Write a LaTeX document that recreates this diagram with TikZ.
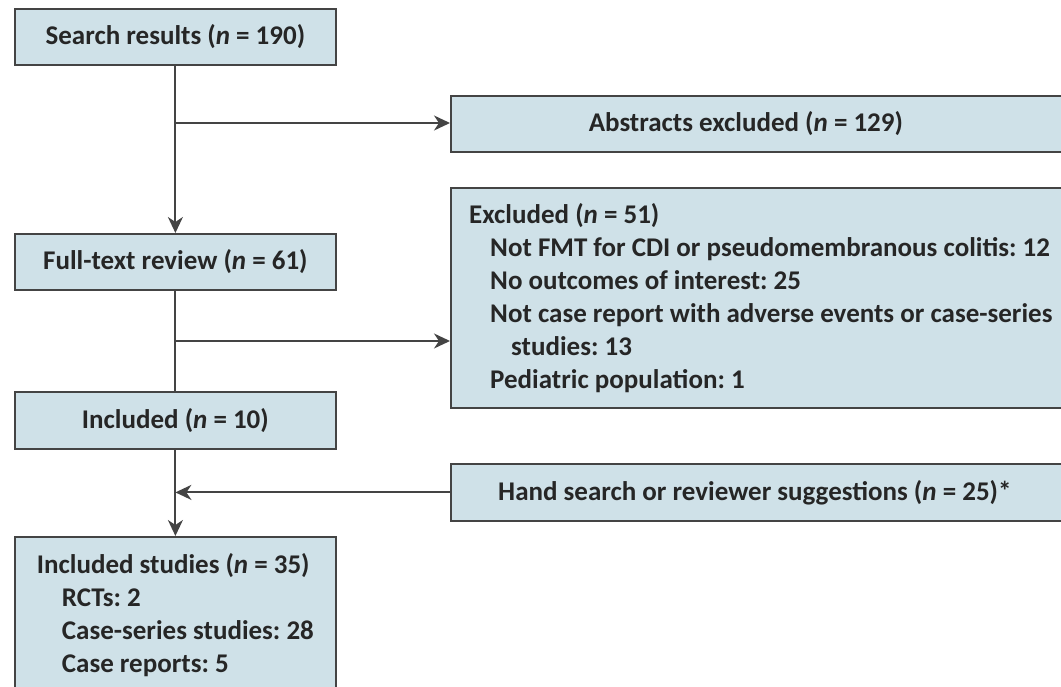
\documentclass[tikz,border=0pt]{standalone}
\usepackage{fontspec}
\setmainfont{Carlito}
\usetikzlibrary{arrows.meta,positioning}
\definecolor{boxfill}{RGB}{207,225,232}
\definecolor{boxline}{RGB}{68,68,68}
\definecolor{boxtext}{RGB}{38,38,38}
\frenchspacing

\begin{document}
\begin{tikzpicture}[x=1pt,y=-1pt,every node/.style={draw=boxline,line width=1.8pt,fill=boxfill,text=boxtext,font=\fontsize{27}{33}\selectfont\bfseries,inner sep=0pt,anchor=north west},flow/.style={draw=boxline,line width=2pt,-{Stealth[length=16pt,width=15pt,inset=5pt]}},link/.style={draw=boxline,line width=2pt}]
\clip (0,0) rectangle (1061,687);
\node[minimum width=321pt,minimum height=56pt](SR) at (14,8){Search results (\textit{n} = 190)};
\node[minimum width=620pt,minimum height=56pt](AB) at (450,95){Abstracts excluded (\textit{n} = 129)\hspace*{30pt}};
\node[minimum width=321pt,minimum height=56pt](FT) at (14,233){Full-text review (\textit{n} = 61)};
\node[minimum width=620pt,minimum height=220pt,align=left](EX) at (450,187){Excluded (\textit{n} = 51)\\
\hspace*{21pt}Not FMT for CDI or pseudomembranous colitis: 12\\
\hspace*{21pt}No outcomes of interest: 25\\
\hspace*{21pt}Not case report with adverse events or case-series\\
\hspace*{42pt}studies: 13\\
\hspace*{21pt}Pediatric population: 1};
\node[minimum width=321pt,minimum height=57pt](IN) at (14,391){Included (\textit{n} = 10)};
\node[minimum width=620pt,minimum height=57pt](HS) at (450,463){Hand search or reviewer suggestions (\textit{n} = 25)*\hspace*{12pt}};
\node[minimum width=321pt,minimum height=156pt,align=left](ST) at (14,536){Included studies (\textit{n} = 35)\\
\hspace*{25pt}RCTs: 2\\
\hspace*{25pt}Case-series studies: 28\\
\hspace*{25pt}Case reports: 5};
\coordinate(b1) at (174.5,123);
\coordinate(b2) at (174.5,341);
\draw[flow](SR)--(FT);
\draw[flow](b1)--(b1-|AB.west);
\draw[link](FT)--(IN);
\draw[flow](b2)--(b2-|EX.west);
\draw[flow](IN)--(ST);
\draw[flow](HS.west)--(HS.west-|IN.south);
\end{tikzpicture}
\end{document}
